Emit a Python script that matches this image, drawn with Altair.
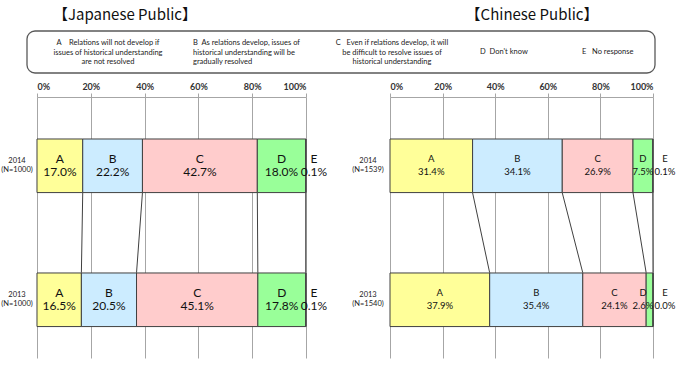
import altair as alt
import pandas as pd

NB = "\u00a0"
categories = ["A", "B", "C", "D", "E"]
years = ["2014", "2013"]
jp_2014 = [17.0, 22.2, 42.7, 18.0, 0.1]
jp_2013 = [16.5, 20.5, 45.1, 17.8, 0.1]
cn_2014 = [31.4, 34.1, 26.9, 7.5, 0.1]
cn_2013 = [37.9, 35.4, 24.1, 2.6, 0.0]
jp_row_labels = ["2014\n(N=1000)", "2013\n(N=1000)"]
cn_row_labels = ["2014\n(N=1539)", "2013\n(N=1540)"]
colors = ["#FFFF99", "#CCECFF", "#FFCCCC", "#99FF99", "#D9D9D9"]
ticks = [0, 20, 40, 60, 80, 100]
titles = ["【Japanese Public】", "【Chinese Public】"]
legend_texts = [
    "A" + NB * 4 + "Relations will not develop if\nissues of historical understanding\nare not resolved",
    "B" + NB * 2 + "As relations develop, issues of\nhistorical understanding will be\ngradually resolved",
    "C" + NB * 3 + "Even if relations develop, it will\nbe difficult to resolve issues of\nhistorical understanding",
    "D" + NB * 2 + "Don't know",
    "E" + NB * 3 + "No response",
]

FONT = "Lato"
DARK = "#404040"


def segments(v14, v13):
    rows = []
    for year, vals in zip(years, [v14, v13]):
        cum = 0.0
        for c, v in zip(categories, vals):
            rows.append(dict(year=year, cat=c, val=v, start=cum, end=cum + v,
                             mid=cum + v / 2, label=f"{c}\n{v:.1f}%"))
            cum += v
    return pd.DataFrame(rows)


def connectors(v14, v13):
    rows = []
    c14 = c13 = 0.0
    for i in range(4):
        c14 += v14[i]
        c13 += v13[i]
        rows.append(dict(x14=c14, x13=c13, ya=years[0], yb=years[1]))
    return pd.DataFrame(rows)


yscale = alt.Scale(domain=years, paddingInner=0.6, paddingOuter=0.274, align=0.572)
cscale = alt.Scale(domain=categories, range=colors)


def panel(v14, v13, row_labels, xrange, fs, lh, e_dx, row_x):
    df = segments(v14, v13)
    conn = connectors(v14, v13)
    rl = pd.DataFrame({"year": years, "rl": row_labels})
    xscale = alt.Scale(domain=[0, 100], range=xrange, nice=False, zero=True)
    axis = alt.Axis(orient="top", values=ticks, grid=True, gridColor="#A6A6A6",
                    gridWidth=1, domainColor="#A6A6A6", tickColor="#A6A6A6",
                    tickSize=4, labelExpr="datum.value + '%'", labelFontSize=9,
                    labelFontWeight="bold", labelColor="#333333", labelPadding=2,
                    labelFont=FONT, title=None)
    base = alt.Chart(df)
    bars = base.mark_bar(stroke=DARK, strokeWidth=1).encode(
        x=alt.X("start:Q", scale=xscale, axis=axis),
        x2="end:Q",
        y=alt.Y("year:N", scale=yscale, axis=None),
        color=alt.Color("cat:N", scale=cscale, legend=None),
    )
    text = base.transform_filter("datum.cat != 'E'").transform_calculate(
        lx="min(datum.mid, 96.2)").mark_text(
        fontSize=fs, lineBreak="\n", lineHeight=lh, baseline="middle",
        font=FONT, color="#111111", dy=-lh / 2).encode(
        x="lx:Q", y=alt.Y("year:N"), text="label:N")
    etext = base.transform_filter("datum.cat == 'E'").mark_text(
        fontSize=fs, lineBreak="\n", lineHeight=lh, baseline="middle",
        font=FONT, color="#111111", dx=e_dx, dy=-lh / 2).encode(
        x="end:Q", y=alt.Y("year:N"), text="label:N")
    rules = alt.Chart(conn).mark_rule(color=DARK, strokeWidth=1, yOffset=27,
                                      y2Offset=-27).encode(
        x="x14:Q", x2="x13:Q", y=alt.Y("ya:N"), y2="yb:N")
    rows = alt.Chart(rl).mark_text(fontSize=7.5, lineBreak="\n", lineHeight=9.5,
                                   baseline="middle", font=FONT, dy=-5,
                                   color="#222222").encode(
        x=alt.value(row_x), y=alt.Y("year:N"), text="rl:N")
    return alt.layer(bars, rules, text, etext, rows)


left = panel(jp_2014, jp_2013, jp_row_labels, [37, 306], 12, 13, 8, 17)
right = panel(cn_2014, cn_2013, cn_row_labels, [390, 653], 9.5, 13, 12, 368)

annos = []
box = alt.Chart(pd.DataFrame({"k": [0]})).mark_rect(
    cornerRadius=8, fill="white", fillOpacity=0, stroke="#595959",
    strokeWidth=1.3).encode(x=alt.value(27), x2=alt.value(655),
                             y=alt.value(-66), y2=alt.value(-24))
annos.append(box)
for t, xpos in zip(titles, [125, 532]):
    annos.append(alt.Chart(pd.DataFrame({"t": [t]})).mark_text(
        fontSize=15, font="Noto Sans CJK JP", color="#111111",
        baseline="middle").encode(text="t:N", x=alt.value(xpos), y=alt.value(-82)))
legend_pos = [(108, "center", -54), (193, "left", -54), (392, "center", -54),
              (480, "left", -45), (582, "left", -45)]
for t, (xpos, al, yy) in zip(legend_texts, legend_pos):
    annos.append(alt.Chart(pd.DataFrame({"t": [t]})).mark_text(
        fontSize=7.5, font=FONT, color="#222222", baseline="middle", align=al,
        lineBreak="\n", lineHeight=9.5).encode(text="t:N", x=alt.value(xpos),
                                              y=alt.value(yy)))

chart = alt.layer(left, right, *annos).resolve_scale(x="independent").properties(
    width=680, height=261,
    padding={"left": 0, "right": 0, "top": 97, "bottom": 19},
    autosize=alt.AutoSizeParams(type="none"),
    background="white",
).configure_view(strokeWidth=0)

chart.save("out.html", embed_options={"renderer": "svg", "actions": False})
